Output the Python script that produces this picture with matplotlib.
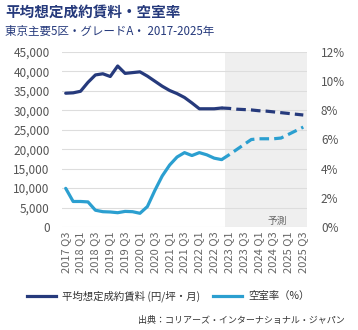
import matplotlib
matplotlib.use("Agg")
import matplotlib.pyplot as plt
from matplotlib.ticker import FuncFormatter

plt.rcParams['font.family'] = ['Noto Sans CJK JP', 'DejaVu Sans']

# quarters 2017 Q3 .. 2025 Q3
quarters = []
for y in range(2017, 2026):
    for q in (1, 2, 3, 4):
        if (y == 2017 and q < 3) or (y == 2025 and q > 3):
            continue
        quarters.append(f"{y} Q{q}")

# actual values up to 2022 Q4, forecast from 2022 Q4 on
rent_actual = [34400, 34500, 34900, 37200, 39100, 39400, 38700, 41400, 39500, 39700,
               39900, 38800, 37500, 36200, 35100, 34300, 33300, 31900, 30400, 30400,
               30400, 30600]
rent_forecast = [30600, 30500, 30300, 30200, 30100, 29900, 29800, 29600, 29400, 29200,
                 29000, 28800]
vac_actual = [2.65, 1.75, 1.75, 1.72, 1.15, 1.05, 1.03, 0.98, 1.07, 1.05,
              0.94, 1.4, 2.5, 3.5, 4.25, 4.8, 5.1, 4.9, 5.1, 4.95,
              4.72, 4.62]
vac_forecast = [4.62, 4.95, 5.3, 5.65, 6.0, 6.05, 6.05, 6.05, 6.1, 6.35, 6.6, 6.85]

navy = '#263a7c'
blue = '#2b9fd0'
grey_txt = '#555555'

fig = plt.figure(figsize=(3.58, 3.30), dpi=100)
ax = fig.add_axes([62/358, 1 - 227/330, (307 - 62)/358, (227 - 52)/330])
ax2 = ax.twinx()

n_act = len(rent_actual)
x_act = list(range(n_act))
x_fc = list(range(n_act - 1, n_act - 1 + len(rent_forecast)))

ax.axvspan(n_act - 0.5, len(quarters) - 0.5, color='#efefef', zorder=0, lw=0)
ax.text((n_act - 0.5 + len(quarters) - 0.5) / 2 + 1.5, 1500, '予測', ha='center', va='center',
        fontsize=7, color='#666666')

ax.plot(x_act, rent_actual, color=navy, lw=2.3, solid_capstyle='round', zorder=3)
ax.plot(x_fc, rent_forecast, color=navy, lw=2.3, ls=(0, (3, 1.6)), zorder=3)
ax2.plot(x_act, vac_actual, color=blue, lw=2.3, solid_capstyle='round', zorder=3)
ax2.plot(x_fc, vac_forecast, color=blue, lw=2.3, ls=(0, (3, 1.6)), zorder=3)

ax.set_xlim(-0.5, len(quarters) - 0.5)
ax.set_ylim(0, 45000)
ax2.set_ylim(0, 12)
ax.set_yticks(range(0, 45001, 5000))
ax2.set_yticks(range(0, 13, 2))
ax.yaxis.set_major_formatter(FuncFormatter(lambda v, p: f"{int(v):,}"))
ax2.yaxis.set_major_formatter(FuncFormatter(lambda v, p: f"{int(v)}%"))
ax.grid(axis='y', color='#dddddd', lw=0.8, zorder=1)
ax.set_axisbelow(True)

ax.set_xticks(range(0, len(quarters), 2))
ax.set_xticklabels(quarters[::2], rotation=90, fontsize=8, color='#666666')
ax.tick_params(axis='both', length=0, pad=3)
ax.tick_params(axis='y', labelsize=8.5, labelcolor=grey_txt, pad=9)
ax2.tick_params(axis='y', length=0, labelsize=8.5, labelcolor=grey_txt, pad=10)
for a in (ax, ax2):
    for s in a.spines.values():
        s.set_visible(False)

fig.text(5/358, 1 - 12/330, '平均想定成約賃料・空室率', fontsize=10.5, fontweight='bold',
         color=navy, va='center')
fig.text(5/358, 1 - 31/330, '東京主要5区・グレードA・ 2017-2025年', fontsize=8.3,
         color=navy, va='center')

h1, = ax.plot([], [], color=navy, lw=2.3)
h2, = ax.plot([], [], color=blue, lw=2.3)
fig.legend([h1, h2], ['平均想定成約賃料 (円/坪・月)', '空室率（%）'], loc='center',
           bbox_to_anchor=(0.47, 1 - 296/330), ncol=2, frameon=False, fontsize=7.5,
           handlelength=2.8, columnspacing=1.2, handletextpad=0.6, labelcolor='#333333')

fig.text(345/358, 1 - 320/330, '出典：コリアーズ・インターナショナル・ジャパン', fontsize=6.5,
         color='#333333', ha='right', va='center')

fig.savefig('out.png', dpi=100, facecolor='white')
